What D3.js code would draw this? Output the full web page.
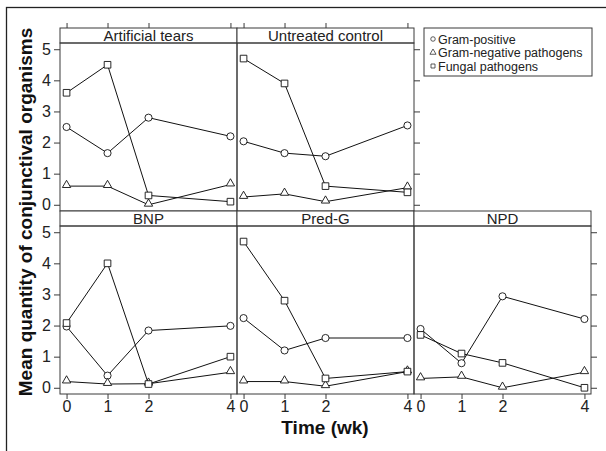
<!DOCTYPE html>
<html>
<head>
    <style>
        body {
            margin: 0;
            padding: 0;
            background-color: white;
        }
        svg text {
            font-family: "Liberation Sans", Arial, sans-serif;
        }
    </style>
    <script src="https://d3js.org/d3.v7.min.js"></script>
</head>
<body>
    <div id="chart"></div>
    <script>
        // data
        var weeks = [0, 1, 2, 4];
        var panels = ["Artificial tears", "Untreated control", "BNP", "Pred-G", "NPD"];
        var seriesNames = ["Gram-positive", "Gram-negative pathogens", "Fungal pathogens"];
        var gramPositive = [
            [2.5, 1.66, 2.8, 2.2],
            [2.04, 1.66, 1.56, 2.55],
            [1.97, 0.39, 1.84, 1.99],
            [2.24, 1.2, 1.6, 1.6],
            [1.89, 0.79, 2.94, 2.21]
        ];
        var gramNegative = [
            [0.6, 0.6, 0.0, 0.65],
            [0.25, 0.35, 0.1, 0.55],
            [0.2, 0.12, 0.13, 0.5],
            [0.2, 0.2, 0.05, 0.52],
            [0.3, 0.35, 0.0, 0.5]
        ];
        var fungal = [
            [3.6, 4.5, 0.3, 0.1],
            [4.7, 3.9, 0.6, 0.4],
            [2.08, 4.0, 0.12, 1.0],
            [4.7, 2.8, 0.3, 0.52],
            [1.7, 1.1, 0.8, 0.0]
        ];
        var yTicks = [0, 1, 2, 3, 4, 5];

        var W = 606, H = 451;
        var svg = d3.select("#chart").append("svg")
            .attr("width", W)
            .attr("height", H)
            .attr("font-family", "'Liberation Sans', Arial, sans-serif");

        // outer frame
        svg.append("rect")
            .attr("x", 6.5).attr("y", 7.5)
            .attr("width", 640).attr("height", 480)
            .attr("fill", "none").attr("stroke", "#222").attr("stroke-width", 1.3);

        var colLeft = [60, 237, 414];
        var panelW = 177;
        var rowTop = [28, 211];
        var stripH = 15;
        var panelH = 168;

        // panel positions: [col, row]
        var pos = [[0, 0], [1, 0], [0, 1], [1, 1], [2, 1]];

        var lineColor = "#3a3a3a";
        var allSeries = [gramPositive, gramNegative, fungal];
        var symbols = [d3.symbolCircle, d3.symbolTriangle, d3.symbolSquare];
        var symSize = [40, 30, 44];

        panels.forEach(function(name, i) {
            var c = pos[i][0], r = pos[i][1];
            var x0 = colLeft[c];
            var top = rowTop[r];
            var y0 = top + stripH;

            var x = d3.scaleLinear().domain([-0.16, 4.16]).range([x0, x0 + panelW]);
            var y = d3.scaleLinear().domain([-0.2, 5.2]).range([y0 + panelH, y0]);

            var g = svg.append("g");

            // strip
            g.append("rect")
                .attr("x", x0).attr("y", top)
                .attr("width", panelW).attr("height", stripH)
                .attr("fill", "white").attr("stroke", lineColor).attr("stroke-width", 1);
            g.append("text")
                .attr("x", x0 + panelW / 2).attr("y", top + stripH - 2)
                .attr("text-anchor", "middle")
                .attr("font-size", 15)
                .attr("fill", "#222")
                .text(name);

            // panel box
            g.append("rect")
                .attr("x", x0).attr("y", y0)
                .attr("width", panelW).attr("height", panelH)
                .attr("fill", "none").attr("stroke", lineColor).attr("stroke-width", 1);

            // axes
            if (c === 0) {
                var ax = g.append("g")
                    .attr("transform", "translate(" + x0 + ",0)")
                    .call(d3.axisLeft(y).tickValues(yTicks).tickSize(6).tickPadding(3).tickFormat(d3.format("d")));
                ax.select(".domain").remove();
                ax.selectAll("text").attr("font-size", 16).attr("fill", "#222").attr("font-family", "'Liberation Sans', Arial, sans-serif");
                ax.selectAll("line").attr("stroke", lineColor);
            }
            if ((c === 1 && r === 0) || (c === 2 && r === 1)) {
                var ar = g.append("g")
                    .attr("transform", "translate(" + (x0 + panelW) + ",0)")
                    .call(d3.axisRight(y).tickValues(yTicks).tickSize(6).tickFormat(""));
                ar.select(".domain").remove();
                ar.selectAll("line").attr("stroke", lineColor);
            }
            if (r === 0) {
                var at = g.append("g")
                    .attr("transform", "translate(0," + top + ")")
                    .call(d3.axisTop(x).tickValues(weeks).tickSize(5).tickFormat(""));
                at.select(".domain").remove();
                at.selectAll("line").attr("stroke", lineColor);
            }
            if (r === 1) {
                var ab = g.append("g")
                    .attr("transform", "translate(0," + (y0 + panelH) + ")")
                    .call(d3.axisBottom(x).tickValues(weeks).tickSize(5).tickPadding(2).tickFormat(d3.format("d")));
                ab.select(".domain").remove();
                ab.selectAll("text").attr("font-size", 16).attr("fill", "#222").attr("font-family", "'Liberation Sans', Arial, sans-serif");
                ab.selectAll("line").attr("stroke", lineColor);
            }

            // series
            allSeries.forEach(function(s, k) {
                var vals = s[i];
                var pts = weeks.map(function(w, j) { return [w, vals[j]]; });
                g.append("path")
                    .datum(pts)
                    .attr("fill", "none")
                    .attr("stroke", "#111")
                    .attr("stroke-width", 1)
                    .attr("d", d3.line().x(function(d) { return x(d[0]); }).y(function(d) { return y(d[1]); }));
                g.selectAll(".pt" + k)
                    .data(pts)
                    .enter().append("path")
                    .attr("transform", function(d) {
                        var dy = k === 1 ? -1 : 0;
                        return "translate(" + x(d[0]) + "," + (y(d[1]) + dy) + ")";
                    })
                    .attr("d", d3.symbol().type(symbols[k]).size(symSize[k]))
                    .attr("fill", "white")
                    .attr("stroke", "#111")
                    .attr("stroke-width", 0.9);
            });
        });

        // legend
        var lg = svg.append("g");
        lg.append("rect")
            .attr("x", 424).attr("y", 28)
            .attr("width", 168).attr("height", 48)
            .attr("fill", "white").attr("stroke", lineColor).attr("stroke-width", 1);
        seriesNames.forEach(function(n, k) {
            var yy = 39 + k * 13.5;
            lg.append("path")
                .attr("transform", "translate(433," + yy + ")")
                .attr("d", d3.symbol().type(symbols[k]).size(16))
                .attr("fill", "white").attr("stroke", "#333").attr("stroke-width", 0.8);
            lg.append("text")
                .attr("x", 438).attr("y", yy + 4.5)
                .attr("font-size", 12.5)
                .attr("fill", "#222")
                .text(n);
        });

        // axis titles
        svg.append("text")
            .attr("transform", "translate(32,212) rotate(-90)")
            .attr("text-anchor", "middle")
            .attr("font-size", 19)
            .attr("font-weight", "bold")
            .attr("fill", "#111")
            .text("Mean quantity of conjunctival organisms");
        svg.append("text")
            .attr("x", 325).attr("y", 434)
            .attr("text-anchor", "middle")
            .attr("font-size", 19)
            .attr("font-weight", "bold")
            .attr("fill", "#111")
            .text("Time (wk)");
    </script>
</body>
</html>
